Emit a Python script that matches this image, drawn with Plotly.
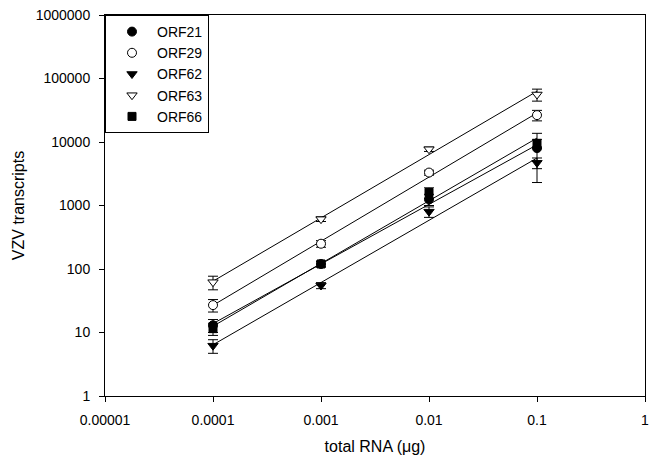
import numpy as np
import plotly.graph_objects as go

rna = [0.0001, 0.001, 0.01, 0.1]

orf21 = [13, 120, 1250, 8000]
orf21_err = [3, 12, 250, 5700]
orf29 = [27, 250, 3300, 26500]
orf29_err = [6, 30, 300, 5000]
orf62 = [6.2, 55, 800, 4700]
orf62_err = [1.5, 6, 150, 900]
orf63 = [62, 610, 7700, 56000]
orf63_err = [15, 50, 600, 12000]
orf66 = [11.5, 120, 1600, 9500]
orf66_err = [2.5, 12, 300, 1500]

x_ticks = [0.00001, 0.0001, 0.001, 0.01, 0.1, 1]
x_ticktext = ["0.00001", "0.0001", "0.001", "0.01", "0.1", "1"]
y_ticks = [1, 10, 100, 1000, 10000, 100000, 1000000]
y_ticktext = ["1", "10", "100", "1000", "10000", "100000", "1000000"]

series = [
    ("ORF21", orf21, orf21_err, "circle", "black"),
    ("ORF29", orf29, orf29_err, "circle", "white"),
    ("ORF62", orf62, orf62_err, "triangle-down", "black"),
    ("ORF63", orf63, orf63_err, "triangle-down", "white"),
    ("ORF66", orf66, orf66_err, "square", "black"),
]

font = "Arial, Liberation Sans, sans-serif"
fig = go.Figure()

lx = np.log10(rna)
for name, y, err, sym, fill in series:
    k, b = np.polyfit(lx, np.log10(y), 1)
    xs = [rna[0], rna[-1]]
    ys = [10 ** (k * np.log10(v) + b) for v in xs]
    fig.add_trace(go.Scatter(x=xs, y=ys, mode="lines", showlegend=False,
                             line=dict(color="black", width=1), hoverinfo="skip"))

for name, y, err, sym, fill in series:
    fig.add_trace(go.Scatter(
        x=rna, y=y, mode="markers", name=name,
        marker=dict(symbol=sym, size=9 if sym != "square" else 8, color=fill,
                    line=dict(color="black", width=1)),
        error_y=dict(type="data", array=err, visible=True, color="black",
                     thickness=1, width=5),
    ))

axis_common = dict(
    showline=True, linecolor="black", linewidth=1, mirror=True,
    ticks="outside", ticklen=5, tickcolor="black", tickwidth=1,
    showgrid=False, zeroline=False, ticklabeloverflow="allow",
    tickfont=dict(family=font, size=14, color="black"),
)

fig.update_layout(
    width=650, height=460,
    margin=dict(l=105, r=1, t=15, b=64),
    paper_bgcolor="white", plot_bgcolor="white",
    font=dict(family=font, size=14, color="black"),
    xaxis=dict(type="log", range=[-5, 0], tickvals=x_ticks, ticktext=x_ticktext,
               title=dict(text="total RNA (μg)", font=dict(family=font, size=16), standoff=14),
               ticklabelstandoff=6, **axis_common),
    yaxis=dict(type="log", range=[0, 6], tickvals=y_ticks, ticktext=y_ticktext,
               title=dict(text="VZV transcripts", font=dict(family=font, size=16), standoff=7),
               ticklabelstandoff=6, **axis_common),
    legend=dict(x=0, y=1, xanchor="left", yanchor="top", bgcolor="white",
                bordercolor="black", borderwidth=1, itemwidth=40, indentation=1,
                font=dict(family=font, size=14)),
    showlegend=True,
)

fig.write_html("out.html")
